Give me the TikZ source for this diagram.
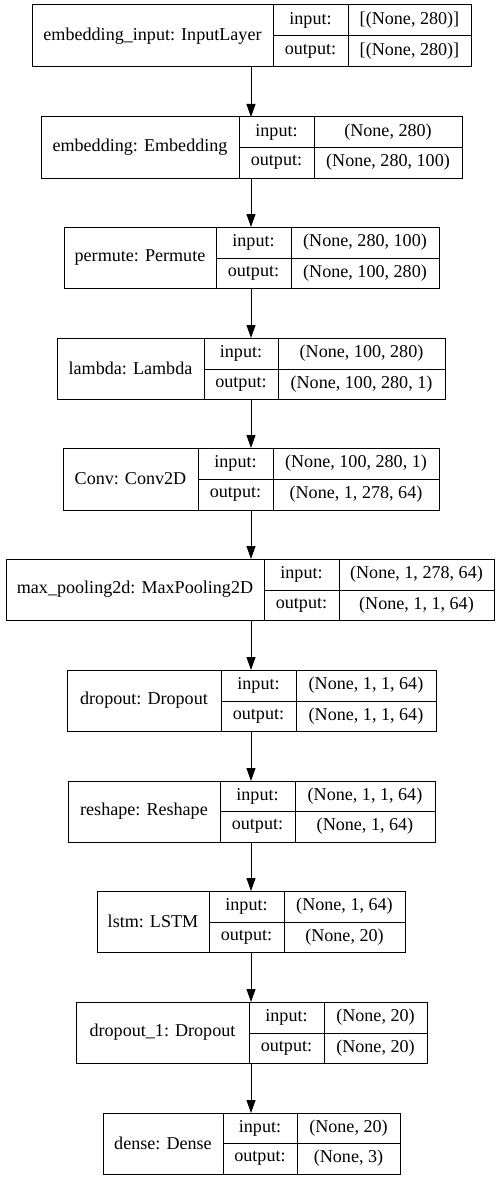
\documentclass[tikz,border=0pt]{standalone}
\usepackage{fontspec}
\setmainfont{Liberation Serif}
\usetikzlibrary{arrows.meta}

\tikzset{
  cell/.style={draw, line width=1pt, inner sep=0pt, outer sep=0pt,
    anchor=north west, font=\fontsize{18.1}{22}\selectfont},
  arr/.style={-{Triangle[length=13pt,width=9pt]}, line width=1pt}
}

% split "x0,x1,x2,x3" and "ytop,ymid,ybot"
\def\splitx#1,#2,#3,#4\relax{\def\xa{#1}\def\xb{#2}\def\xc{#3}\def\xd{#4}}
\def\splity#1,#2,#3\relax{\def\ya{#1}\def\ym{#2}\def\yb{#3}}

% one layer record: name cell, then input/output key and value cells
\newcommand\layerbox[6]{%
  \splitx#2\relax
  \splity#3\relax
  \pgfmathsetmacro\wa{\xb-\xa}%
  \pgfmathsetmacro\wb{\xc-\xb}%
  \pgfmathsetmacro\wc{\xd-\xc}%
  \pgfmathsetmacro\hall{\yb-\ya}%
  \pgfmathsetmacro\htop{\ym-\ya}%
  \pgfmathsetmacro\hbot{\yb-\ym}%
  \node[cell, minimum width=\wa pt, minimum height=\hall pt] (#1) at (\xa,\ya) {#4};
  \node[cell, minimum width=\wb pt, minimum height=\htop pt] (#1-ik) at (\xb,\ya) {input:};
  \node[cell, minimum width=\wc pt, minimum height=\htop pt] (#1-iv) at (\xc,\ya) {#5};
  \node[cell, minimum width=\wb pt, minimum height=\hbot pt] (#1-ok) at (\xb,\ym) {output:};
  \node[cell, minimum width=\wc pt, minimum height=\hbot pt] (#1-ov) at (\xc,\ym) {#6};
}

\begin{document}
\begin{tikzpicture}[x=1pt, y=-1pt]
  \useasboundingbox (0,0) rectangle (503,1180);

  \layerbox{inp}{32,273,348,471}{5,36,67}{embedding\_input: InputLayer}{[(None, 280)]}{[(None, 280)]}
  \layerbox{emb}{41,239,314,462}{117,147,178}{embedding: Embedding}{(None, 280)}{(None, 280, 100)}
  \layerbox{perm}{64,216,291,439}{227,258,288}{permute: Permute}{(None, 280, 100)}{(None, 100, 280)}
  \layerbox{lam}{57,204,278,445}{338,369,399}{lambda: Lambda}{(None, 100, 280)}{(None, 100, 280, 1)}
  \layerbox{conv}{63,198,273,439}{448,479,510}{Conv: Conv2D}{(None, 100, 280, 1)}{(None, 1, 278, 64)}
  \layerbox{pool}{6,264,339,494}{559,590,620}{max\_pooling2d: MaxPooling2D}{(None, 1, 278, 64)}{(None, 1, 1, 64)}
  \layerbox{drop}{67,221,296,436}{670,701,731}{dropout: Dropout}{(None, 1, 1, 64)}{(None, 1, 1, 64)}
  \layerbox{resh}{68,220,295,435}{781,811,842}{reshape: Reshape}{(None, 1, 1, 64)}{(None, 1, 64)}
  \layerbox{lstm}{97,209,284,405}{891,922,952}{lstm: LSTM}{(None, 1, 64)}{(None, 20)}
  \layerbox{dropa}{76,249,324,427}{1002,1033,1063}{dropout\_1: Dropout}{(None, 20)}{(None, 20)}
  \layerbox{dense}{103,223,297,400}{1113,1143,1174}{dense: Dense}{(None, 20)}{(None, 3)}

  % vertical flow line shared by all connectors
  \coordinate (axis) at (251,0);
  \foreach \a/\b in {inp/emb, emb/perm, perm/lam, lam/conv, conv/pool,
                     pool/drop, drop/resh, resh/lstm, lstm/dropa, dropa/dense}
    \draw[arr] (\a.south -| axis) -- (\b.north -| axis);
\end{tikzpicture}
\end{document}
